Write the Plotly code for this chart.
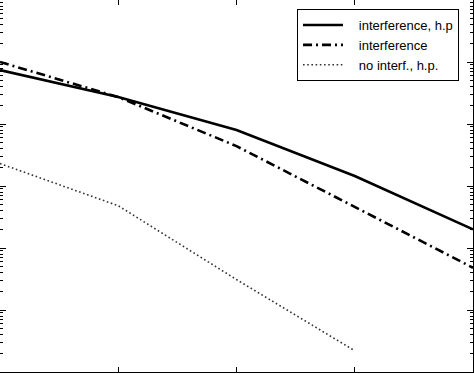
import plotly.graph_objects as go

# x values (SNR points, unlabelled in the reference)
snr = [0, 5, 10, 15, 20]
snr_no_interf = [0, 5, 10, 15]

# error probabilities
interf_hp = [7.4e-2, 2.72e-2, 8.0e-3, 1.45e-3, 2.0e-4]
interf = [1.0e-1, 2.72e-2, 4.4e-3, 4.6e-4, 4.8e-5]
no_interf_hp = [2.3e-3, 4.8e-4, 3.1e-5, 2.2e-6]

names = ["interference, h.p", "interference", "no interf., h.p."]
pad = "\u00a0\u00a0\u00a0"

fig = go.Figure()
fig.add_trace(go.Scatter(x=snr, y=interf_hp, mode="lines", name=pad + names[0],
                         line=dict(color="black", width=2.6)))
fig.add_trace(go.Scatter(x=snr, y=interf, mode="lines", name=pad + names[1],
                         line=dict(color="black", width=2.6, dash="9px,4px,2px,4px")))
fig.add_trace(go.Scatter(x=snr_no_interf, y=no_interf_hp, mode="lines", name=pad + names[2],
                         line=dict(color="#333333", width=1.6, dash="1.6px,2.6px")))

minor_vals = [m * 10.0 ** e for e in range(-6, 0) for m in range(2, 10)]

fig.update_layout(
    width=474, height=374,
    margin=dict(l=0, r=1, t=0, b=2),
    paper_bgcolor="white", plot_bgcolor="white",
    font=dict(family="Liberation Sans, Arial, sans-serif", size=13, color="black"),
    showlegend=True,
    legend=dict(x=297 / 473, xanchor="left", y=1 - 9 / 372, yanchor="top",
                bordercolor="black", borderwidth=1, bgcolor="white",
                font=dict(size=13), itemwidth=40, tracegroupgap=0),
    xaxis=dict(range=[0, 20], dtick=5, showgrid=False, zeroline=False,
               showline=True, linecolor="black", linewidth=1, mirror="allticks",
               ticks="inside", ticklen=5, tickcolor="black", showticklabels=False),
    yaxis=dict(type="log", range=[-6, 0], dtick=1, showgrid=False, zeroline=False,
               showline=True, linecolor="black", linewidth=1, mirror="allticks",
               ticks="inside", ticklen=6, tickcolor="black", showticklabels=False,
               minor=dict(tickvals=minor_vals, ticks="inside", ticklen=3,
                          tickcolor="black", showgrid=False)),
)

fig.write_html("out.html")
